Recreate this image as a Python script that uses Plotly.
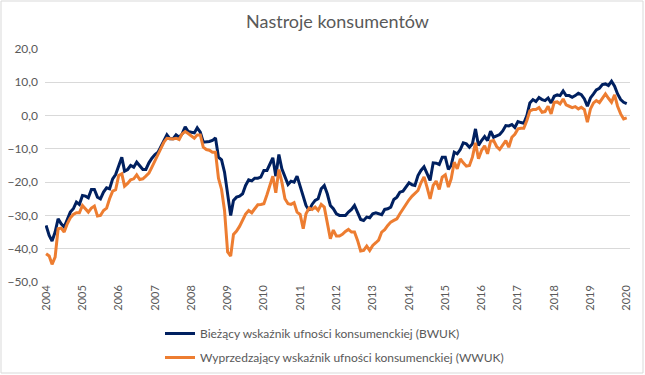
import pandas as pd
import plotly.graph_objects as go

# Monthly observations Jan 2004 .. Jan 2020
months = pd.date_range("2004-01-01", periods=193, freq="MS")

bwuk = [
    -33, -36, -37.7, -35, -31, -32.5, -33.5, -31, -29, -28, -26, -26.7,          # 2004
    -24, -24.2, -24.7, -22.2, -22.2, -24.5, -25, -23, -21.7, -22, -19, -17.7,    # 2005
    -15, -12.5, -16.7, -16.2, -15, -15.5, -14, -15, -16.2, -16.2, -14.2, -12.8,  # 2006
    -11.7, -11, -9.5, -7.8, -5.8, -7, -7, -5.8, -6.5, -5.5, -3.4, -4.8,          # 2007
    -5, -5.2, -3.7, -5, -8, -8, -7.8, -7.5, -6.7, -12.5, -13.3, -17,             # 2008
    -24, -30, -25.5, -24.5, -24.2, -23.5, -21, -19.3, -19.6, -18.8, -18.8, -18.5,  # 2009
    -16.5, -16.5, -14.7, -12.7, -18.2, -11.7, -16, -18.5, -20.7, -19.7, -20, -18.2,  # 2010
    -21.5, -24, -27, -28.5, -26.7, -25.5, -25, -22, -21, -23.5, -27, -28,        # 2011
    -29.5, -30, -30, -30, -29, -28.2, -27, -29, -31.2, -31.5, -30.5, -30.7,      # 2012
    -29.5, -29.2, -29.5, -29.8, -28.2, -28, -27.5, -25.2, -24.5, -23, -22.7, -21.5,  # 2013
    -20.2, -20.8, -21, -18, -16.5, -15.4, -17.3, -19.5, -14.2, -14.3, -14.7, -12.5,  # 2014
    -12.5, -16.2, -15, -11, -11.5, -10.2, -8.2, -8.5, -9.5, -8.5, -4, -9,        # 2015
    -7.5, -6.3, -7.5, -4.7, -6.5, -6.2, -5.7, -4.6, -3, -3.1, -2.7, -3.6,        # 2016
    -1.8, -2.1, -2.3, 0, 3.8, 4.8, 4.2, 5.4, 4.8, 4.5, 5.3, 3.8,                 # 2017
    5.8, 6.2, 6, 7.4, 6, 6, 5.5, 6, 6.7, 6.3, 5, 2.8,                            # 2018
    5.3, 6.5, 7.7, 8.2, 9.3, 9.5, 9, 10.3, 8.8, 6.5, 4.8, 4,                     # 2019
    3.6,                                                                          # 2020
]

wwuk = [
    -41.5, -42.2, -44.7, -42.5, -34, -33.8, -35, -32.5, -30.7, -29.7, -29.2, -29.2,  # 2004
    -27, -28.2, -29, -27.8, -27.2, -30.2, -30, -28.5, -27.8, -25, -22.7, -22.3,  # 2005
    -18, -17.5, -21.2, -20.4, -19.3, -19, -17.8, -19.2, -19, -18.2, -17.3, -15.5,  # 2006
    -13.5, -12, -9.7, -8, -6.8, -7, -7, -6.8, -7.2, -5.5, -4.8, -5.4,            # 2007
    -6.2, -6.8, -5.8, -5.8, -9.5, -10.2, -10.4, -11, -11, -18.8, -22.2, -28.5,   # 2008
    -41, -42.2, -35.7, -34.7, -33.3, -31.6, -29.6, -28.5, -29.2, -28, -26.8, -26.7,  # 2009
    -26.5, -23.8, -21.3, -18.2, -23.2, -16.2, -20, -25, -26.5, -26.7, -26.2, -29,  # 2010
    -29.7, -34, -29.5, -27.8, -28.2, -27.5, -28.5, -26.7, -27.5, -32, -37, -34.4,  # 2011
    -36.2, -36.2, -35.7, -34.8, -34.2, -35, -35, -37.5, -40.7, -40.5, -39.2, -40.5,  # 2012
    -39, -38.2, -37.4, -35, -34.3, -33, -32, -31.5, -31, -29.5, -28.1, -26.4,    # 2013
    -25.3, -24.2, -23.5, -22.5, -20.2, -18.4, -21.5, -25, -21, -19.7, -22.2, -18.5,  # 2014
    -17.8, -21.5, -19, -14, -16, -13, -14.2, -15.2, -15, -12.5, -8.2, -13,       # 2015
    -10.5, -9.1, -11.5, -7.7, -7.5, -9.3, -10.2, -9, -7.5, -9.5, -6.5, -5.6,     # 2016
    -4, -3.8, -3.8, -1.5, 1.4, 1.8, 1.8, 2.4, 1, 1.2, 2.8, 0.5,                  # 2017
    4, 4.1, 3.5, 5, 3.2, 2.8, 2.4, 2.7, 2, 2.5, 1.8, -2,                         # 2018
    2, 3.8, 4.5, 3.9, 5.3, 6.5, 5.2, 4, 6.2, 2.8, 0.5, -1,                       # 2019
    -0.7,                                                                         # 2020
]

series_names = [
    "Bieżący wskaźnik ufności konsumenckiej (BWUK)",
    "Wyprzedzający wskaźnik ufności konsumenckiej (WWUK)",
]
series_colors = ["#002060", "#ED7D31"]

year_ticks = pd.date_range("2004-01-01", "2020-01-01", freq="YS")
year_labels = [str(d.year) for d in year_ticks]
y_ticks = [20, 10, 0, -10, -20, -30, -40, -50]

title_text = "Nastroje konsumentów"

FONT = "Lato"
GREY = "#595959"

fig = go.Figure()
for name, vals, col, grp in zip(series_names, [bwuk, wwuk], series_colors, ["a", "b"]):
    fig.add_trace(go.Scatter(
        x=months, y=vals, mode="lines", name=name, legendgroup=grp,
        line=dict(color=col, width=3),
    ))

W, H = 645, 375
ml, mr, mt, mb = 45, 15, 49, 93
pw, ph = W - ml - mr, H - mt - mb

fig.update_layout(
    width=W, height=H,
    margin=dict(l=ml, r=mr, t=mt, b=mb, pad=0, autoexpand=False),
    paper_bgcolor="white", plot_bgcolor="white",
    separators=", ",
    font=dict(family=FONT, color=GREY, size=11),
    title=dict(text=title_text, x=0.5, xanchor="center", xref="paper",
               y=1 - 22 / H, yanchor="middle",
               font=dict(family=FONT, size=18, color=GREY)),
    showlegend=True,
    legend=dict(orientation="v", xref="container", yref="container",
                x=160 / W, xanchor="left",
                y=1 - 319 / H, yanchor="top",
                font=dict(family=FONT, size=12, color=GREY),
                tracegroupgap=5, bgcolor="rgba(0,0,0,0)"),
    xaxis=dict(
        type="date", automargin=False,
        range=[pd.Timestamp("2003-12-21"), pd.Timestamp("2020-02-03")],
        tickvals=list(year_ticks), ticktext=year_labels,
        tickangle=-90, showgrid=False, showline=False, zeroline=False,
        ticks="", tickfont=dict(family=FONT, size=11, color=GREY),
    ),
    yaxis=dict(
        range=[-50, 20], tickvals=y_ticks, tickformat=".1f", automargin=False,
        showgrid=True, gridcolor="#D9D9D9", gridwidth=1,
        zeroline=False, showline=False, ticks="",
        ticklabelstandoff=6,
        tickfont=dict(family=FONT, size=12, color=GREY),
    ),
    shapes=[dict(type="rect", xref="paper", yref="paper",
                 x0=-(ml - 1) / pw, x1=1 + (mr - 2) / pw,
                 y0=-(mb - 2) / ph, y1=1 + (mt - 1) / ph,
                 line=dict(color="#D9D9D9", width=1), layer="below")],
)

fig.write_html("out.html",
               config={"displayModeBar": False},
               post_script="document.body.style.margin='0';document.body.style.padding='0';")
